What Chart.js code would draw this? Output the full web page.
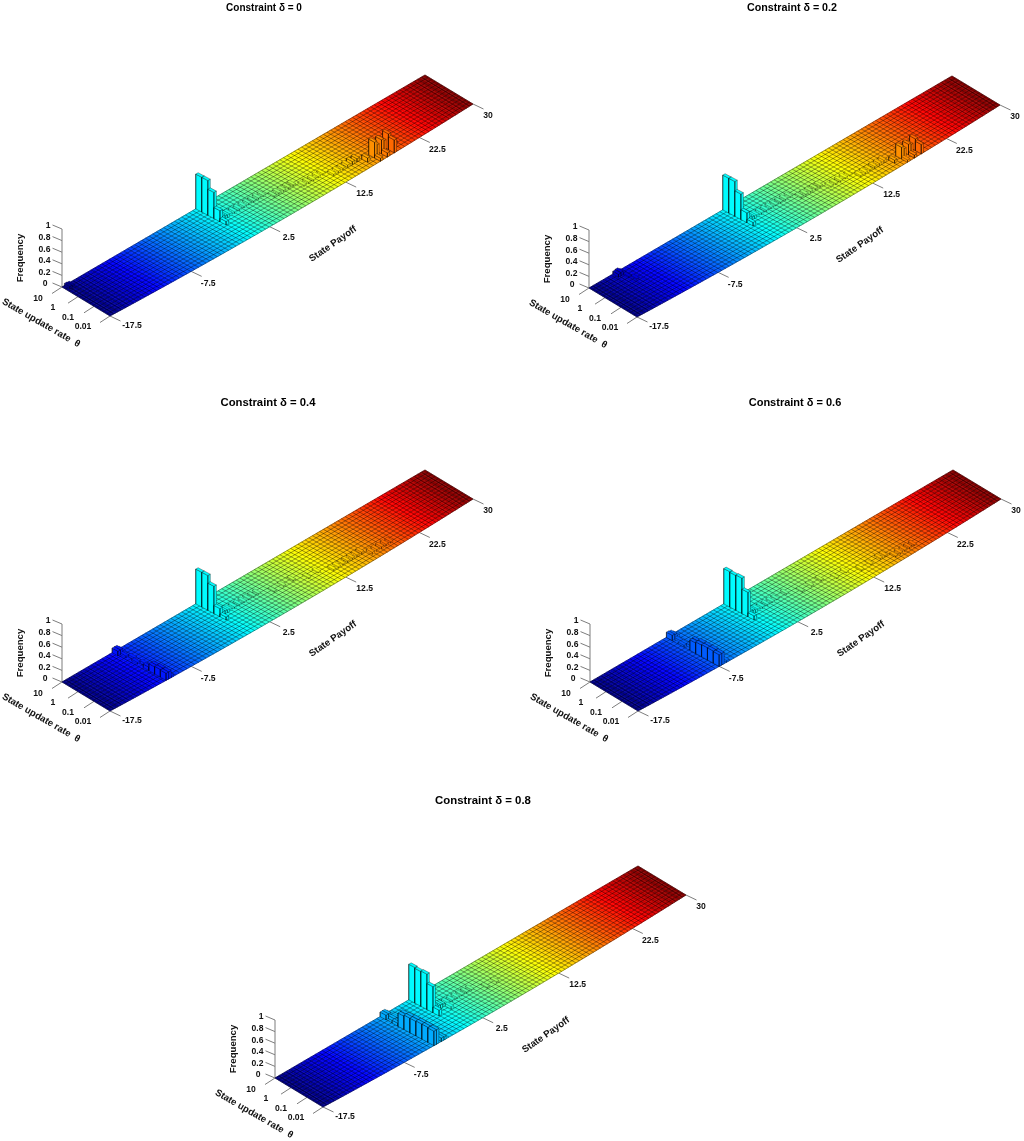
<!DOCTYPE html>
<html>
<head>
<meta charset="utf-8">
<script src="https://cdn.jsdelivr.net/npm/chart.js@4"></script>
<style>
html,body{margin:0;padding:0;background:#fff;width:1024px;height:1141px;overflow:hidden}
canvas{position:absolute;filter:blur(0.3px)}
</style>
</head>
<body>
<script>
// ---- values ----
const panelTitles = ["Constraint δ = 0","Constraint δ = 0.2","Constraint δ = 0.4","Constraint δ = 0.6","Constraint δ = 0.8"];
const payoffTicks = [-17.5,-7.5,2.5,12.5,22.5,30];
const rateTickLabels = ["10","1","0.1","0.01"];
const freqTicks = [0,0.2,0.4,0.6,0.8,1];
const payoffMin = -17.5, payoffMax = 30;
const payoffBins = 152, rateBars = 9, meshCols = 100, meshRows = 14;

// sparse non-zero frequency cells: [payoff bin, rate bin (0 = rate 10 edge), frequency]
const freqDelta0 = [[1,0,.04],[2,0,.03],
 [56,0,.6],[56,1,.6],[56,2,.45],[56,3,.19],[56,4,.06],[57,3,.07],[58,3,.05],[59,3,.04],[60,3,.04],[62,3,.03],[64,3,.03],[66,3,.025],[68,3,.03],[70,3,.02],[72,3,.025],[74,3,.02],[76,4,.02],[78,4,.025],[80,4,.02],[82,4,.02],[84,4,.02],[86,5,.02],[88,5,.025],[90,5,.02],[92,5,.025],[94,5,.025],[96,6,.025],[98,6,.03],[100,6,.03],[102,6,.04],[104,6,.05],[106,6,.05],[108,7,.07],
 [111,7,.27],[112,7,.2],[114,7,.24],[115,7,.2],[117,7,.27],[118,7,.1],[117,8,.22],[114,8,.07],[111,8,.05],[120,7,.05]];
const freqDelta02 = [[10,0,.05],[11,0,.06],[12,0,.03],[12,1,.02],[13,2,.015],
 [56,0,.6],[56,1,.6],[56,2,.44],[56,3,.17],[56,4,.06],[57,3,.07],[58,3,.05],[59,3,.04],[60,3,.035],[62,3,.03],[64,3,.025],[66,3,.025],[68,3,.02],[70,3,.02],[72,3,.02],[74,3,.02],[76,4,.02],[78,4,.02],[80,4,.02],[82,4,.02],[84,4,.02],[86,5,.02],[88,5,.02],[90,5,.02],[92,5,.02],[94,5,.02],[96,6,.02],[98,6,.025],[100,6,.025],[102,6,.03],[104,6,.035],[106,6,.04],[108,7,.05],
 [111,7,.2],[112,7,.15],[114,7,.18],[115,7,.15],[117,7,.2],[118,7,.07],[117,8,.16],[114,8,.05],[111,8,.04]];
const freqDelta04 = [[21,0,.08],[22,0,.08],[23,0,.04],[22,1,.03],[23,2,.03],[22,3,.03],[23,4,.04],[22,5,.06],[23,5,.04],
 [22,6,.12],[22,7,.13],[22,8,.12],[23,6,.12],[23,7,.13],[23,8,.12],[24,8,.03],
 [56,0,.6],[56,1,.6],[56,2,.47],[56,3,.14],[56,4,.05],[57,3,.06],[58,3,.05],[59,3,.04],[60,3,.03],[62,3,.025],[64,3,.02],[66,3,.02],[68,3,.02],[70,3,.015],[72,3,.015],[76,4,.015],[80,4,.015],[84,4,.015],[88,5,.015],[92,5,.015],[96,6,.02],[98,6,.02],[100,6,.02],[102,6,.025],[104,6,.025],[106,6,.03],[108,6,.03],[110,7,.035],[112,7,.035],[114,7,.035],[116,7,.03],[118,7,.025]];
const freqDelta06 = [[32,0,.09],[33,0,.08],[34,0,.04],[33,1,.03],[32,2,.03],[33,2,.025],[33,3,.04],[32,4,.18],[33,4,.19],[32,5,.2],[33,5,.21],[32,6,.21],[33,6,.21],[32,7,.21],[33,7,.21],[32,8,.2],[33,8,.2],[35,8,.03],
 [56,0,.61],[56,1,.6],[56,2,.61],[56,3,.42],[56,4,.07],[57,3,.07],[58,3,.06],[59,3,.04],[60,3,.035],[62,3,.025],[64,3,.02],[66,3,.02],[68,3,.015],[72,3,.015],[76,4,.015],[80,4,.015],[84,4,.015],[88,5,.015],[92,5,.015],[96,6,.015],[100,6,.015],[104,6,.02],[106,6,.02],[108,7,.02],[110,7,.025],[112,7,.025],[114,7,.025],[116,7,.02]];
const freqDelta08 = [[44,0,.08],[45,0,.08],[46,0,.04],[45,1,.05],[46,1,.04],[44,2,.05],[45,2,.04],
 [44,3,.23],[45,3,.24],[44,4,.25],[45,4,.25],[44,5,.25],[45,5,.26],[44,6,.26],[45,6,.26],[44,7,.26],[45,7,.26],[44,8,.25],[45,8,.25],[47,8,.06],[48,8,.05],
 [56,0,.615],[56,1,.6],[56,2,.61],[56,3,.45],[56,4,.1],[57,3,.1],[58,3,.07],[59,3,.06],[60,3,.05],[61,4,.04],[62,3,.035],[64,3,.025],[66,3,.025],[68,3,.02],[70,3,.02],[72,3,.015],[76,4,.015],[80,4,.015]];
const panelFreqs = [freqDelta0,freqDelta02,freqDelta04,freqDelta06,freqDelta08];

// ---- page layout of each panel ----
const panelBoxes = [
 {left:0,  top:0,  w:528,h:394,bx:62, by:287,ts:10},
 {left:525,top:0,  w:534,h:394,bx:589,by:288,ts:10.7},
 {left:0,  top:394,w:536,h:398,bx:62, by:682,ts:11.3},
 {left:525,top:394,w:540,h:398,bx:590,by:682,ts:11},
 {left:200,top:792,w:566,h:349,bx:275,by:1078,ts:11.4}
];
const lenVec = {x:363,y:-212}, widVec = {x:48,y:29}, zPx = 58, skew = 0.08;
const titlePadTop = 2;
const tickFont = "bold 8.6px 'Liberation Sans'", axisFont = "bold 9.6px 'Liberation Sans'";
const edge = 'rgba(0,0,0,0.55)', lowEdge = 'rgba(0,0,0,0.35)', crossEdge = 'rgba(0,0,0,0.62)', longEdge = 'rgba(0,0,0,0.62)', axisGrey = '#7d7d7d';

function jet(t){
  const ch = v => Math.round(255*Math.max(0,Math.min(1,1.5-Math.abs(v))));
  return `rgb(${ch(4*t-3)},${ch(4*t-2)},${ch(4*t-1)})`;
}

panelBoxes.forEach((box,pi)=>{
  const cv = document.createElement('canvas');
  cv.width = box.w; cv.height = box.h;
  cv.style.left = box.left+'px'; cv.style.top = box.top+'px';
  cv.style.width = box.w+'px'; cv.style.height = box.h+'px';
  document.body.appendChild(cv);

  const titleBlock = titlePadTop + box.ts*1.2;
  const ox = box.bx-box.left, oy = box.by-box.top;
  // projection of grid coordinates (payoff fraction u, rate fraction v, frequency f)
  const P = (u,v,f)=>{
    const w = u*(1+skew*v)/(1+skew*v*u);
    return {x:ox+w*lenVec.x+v*widVec.x, y:oy+u*lenVec.y+v*widVec.y-f*zPx};
  };

  const layers = [];
  const base = {type:'scatter',showLine:true,pointRadius:0,pointHoverRadius:0,tension:0,clip:false};
  const poly = (pts,color,line,lw)=>layers.push({...base,data:pts.concat([pts[0]]),backgroundColor:color,borderColor:line,borderWidth:lw,fill:'shape'});
  const path = (pts,color,lw)=>layers.push({...base,data:pts,borderColor:color,borderWidth:lw,fill:false});

  // axis lines and ticks
  const texts = [];
  path([P(0,0,0),P(0,0,1)],axisGrey,1);
  freqTicks.forEach(t=>{
    const a=P(0,0,t), b={x:a.x-9.5,y:a.y-4}; path([a,b],axisGrey,1);
    texts.push({s:String(t),x:t===0?b.x-5:b.x-2,y:b.y+1,align:'right',font:tickFont});
  });
  rateTickLabels.forEach((s,i)=>{
    const a=P(0,i/3,0), b={x:a.x-10,y:a.y+6.5}; path([a,b],axisGrey,1);
    texts.push({s,x:a.x-24-i,y:a.y+12-i*0.6,align:'center',font:tickFont});
  });
  const payoffLabelOff = [[22,10],[17,12],[19,11],[19,12],[18,12],[15,12]];
  payoffTicks.forEach((p,i)=>{
    const u=(p-payoffMin)/(payoffMax-payoffMin), a=P(u,1,0), b={x:a.x+10.5,y:a.y+5}; path([a,b],axisGrey,1);
    texts.push({s:String(p),x:a.x+payoffLabelOff[i][0],y:a.y+payoffLabelOff[i][1],align:'center',font:tickFont});
  });
  const b0=P(0,0,0);
  texts.push({s:'Frequency',x:b0.x-42,y:b0.y-29,align:'center',font:axisFont,rot:-Math.PI/2});
  texts.push({s:'State update rate  θ',x:b0.x-21,y:b0.y+36,align:'center',font:axisFont,rot:30*Math.PI/180});
  texts.push({s:'State Payoff',x:b0.x+271,y:b0.y-43,align:'center',font:axisFont,rot:-35*Math.PI/180});

  // floor: colour strips then mesh
  for(let c=payoffBins-1;c>=0;c--){
    const col = jet((c+0.5)/payoffBins), u0=c/payoffBins,u1=(c+1)/payoffBins;
    poly([P(u0,0,0),P(u1,0,0),P(u1,1,0),P(u0,1,0)],col,col,0.6);
  }
  for(let r=0;r<=meshRows;r++){
    const pts=[]; for(let k=0;k<=20;k++) pts.push(P(k/20,r/meshRows,0));
    path(pts,longEdge,0.6);
  }
  for(let c=0;c<=meshCols;c++) path([P(c/meshCols,0,0),P(c/meshCols,1,0)],crossEdge,0.6);
  // bars, far ones first
  const cells = panelFreqs[pi].slice().sort((a,b)=>b[0]-a[0]||a[1]-b[1]);
  cells.forEach(([c,r,f])=>{
    const col=jet((c+0.5)/payoffBins), line=f<0.05?lowEdge:edge;
    const u0=c/payoffBins,u1=(c+1)/payoffBins,v0=r/rateBars,v1=(r+1)/rateBars;
    poly([P(u0,v0,0),P(u0,v1,0),P(u0,v1,f),P(u0,v0,f)],col,line,0.6);
    poly([P(u0,v1,0),P(u1,v1,0),P(u1,v1,f),P(u0,v1,f)],col,line,0.6);
    poly([P(u0,v0,f),P(u1,v0,f),P(u1,v1,f),P(u0,v1,f)],col,line,0.6);
  });
  layers.reverse(); // Chart.js paints the first dataset last

  const labelPlugin = {id:'labels3d',afterDatasetsDraw(chart){
    const {ctx,scales:{x,y}} = chart;
    ctx.save(); ctx.fillStyle='#111'; ctx.textBaseline='middle';
    texts.forEach(t=>{
      ctx.save();
      ctx.translate(x.getPixelForValue(t.x),y.getPixelForValue(t.y));
      if(t.rot) ctx.rotate(t.rot);
      ctx.font=t.font; ctx.textAlign=t.align;
      ctx.fillText(t.s,0,0);
      ctx.restore();
    });
    ctx.restore();
  }};

  new Chart(cv,{
    type:'scatter',
    data:{datasets:layers},
    plugins:[labelPlugin],
    options:{
      responsive:false,animation:false,parsing:false,events:[],
      layout:{padding:0},
      plugins:{
        legend:{display:false},tooltip:{enabled:false},
        title:{display:true,text:panelTitles[pi],color:'#000',align:'center',
          font:{family:"'Liberation Sans'",size:box.ts,weight:'bold',lineHeight:1.2},
          padding:{top:titlePadTop,bottom:0}}
      },
      scales:{
        x:{type:'linear',display:false,min:0,max:box.w},
        y:{type:'linear',display:false,reverse:true,min:titleBlock,max:box.h}
      }
    }
  });
});
</script>
</body>
</html>
